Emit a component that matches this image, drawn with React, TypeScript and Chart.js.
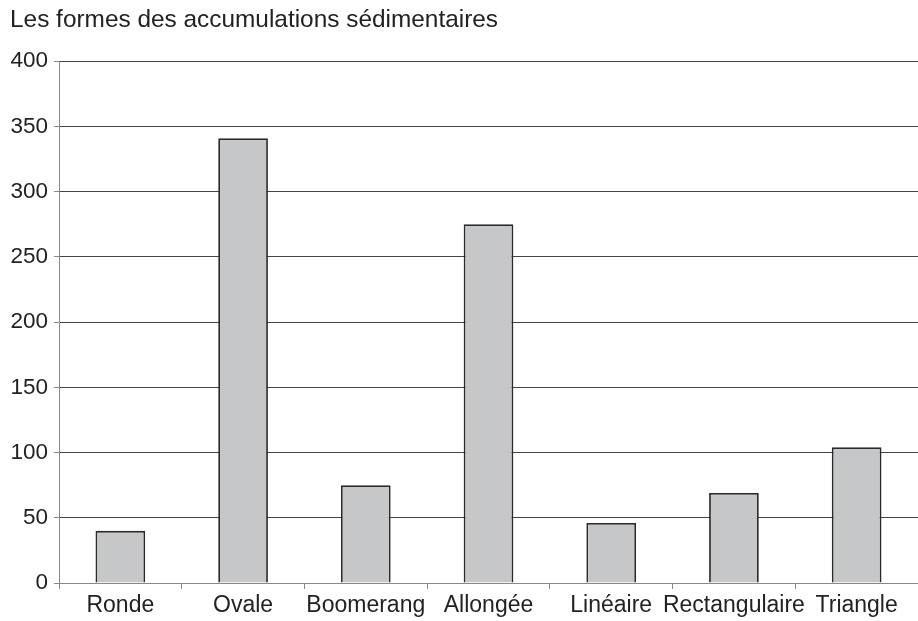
import React, { useEffect, useRef } from "react";
import { Chart, registerables } from "chart.js";

Chart.register(...registerables);

const titleText = "Les formes des accumulations sédimentaires";
const categories = ["Ronde", "Ovale", "Boomerang", "Allongée", "Linéaire", "Rectangulaire", "Triangle"];
const counts = [40, 341, 75, 275, 46, 69, 104];
const yMin = 0;
const yMax = 400;
const yStep = 50;

export default function App() {
  const ref = useRef<HTMLCanvasElement | null>(null);

  useEffect(() => {
    if (!ref.current) return;
    const font = "'Liberation Sans', Arial, Helvetica, sans-serif";
    const chart = new Chart(ref.current, {
      type: "bar",
      data: {
        labels: categories,
        datasets: [
          {
            data: counts,
            backgroundColor: "#c6c7c9",
            borderColor: "#2a2a2a",
            borderWidth: 1.8,
            barPercentage: 0.405,
            categoryPercentage: 1,
          },
        ],
      },
      options: {
        animation: false,
        responsive: false,
        maintainAspectRatio: false,
        layout: { padding: { left: 10, right: 0, top: 0, bottom: 0 } },
        plugins: {
          legend: { display: false },
          tooltip: { enabled: false },
          title: {
            display: true,
            text: titleText,
            align: "start",
            color: "#222",
            font: { family: font, size: 24.4, weight: "normal" },
            padding: { top: 6, bottom: 26 },
          },
        },
        scales: {
          x: {
            grid: {
              display: true,
              drawOnChartArea: false,
              drawTicks: true,
              tickLength: 6,
              color: "#888",
              offset: true,
            },
            border: { display: true, color: "#888", width: 1 },
            ticks: {
              color: "#222",
              font: { family: font, size: 23 },
              padding: 3,
              maxRotation: 0,
              autoSkip: false,
            },
            afterFit: (s: any) => {
              s.height = 38;
            },
          },
          y: {
            min: yMin,
            max: yMax,
            ticks: {
              stepSize: yStep,
              color: "#222",
              font: { family: font, size: 22.5 },
              padding: 6,
            },
            grid: {
              color: "#444",
              lineWidth: 1,
              drawTicks: true,
              tickLength: 5,
              tickColor: "#888",
            },
            border: { display: true, color: "#888", width: 1 },
            afterFit: (s: any) => {
              s.width = 49;
            },
          },
        },
      },
    });
    return () => chart.destroy();
  }, []);

  return (
    <div style={{ position: "fixed", left: 0, top: 0, width: 918, height: 621, background: "#fff" }}>
      <canvas ref={ref} width={918} height={621} style={{ display: "block" }} />
    </div>
  );
}
